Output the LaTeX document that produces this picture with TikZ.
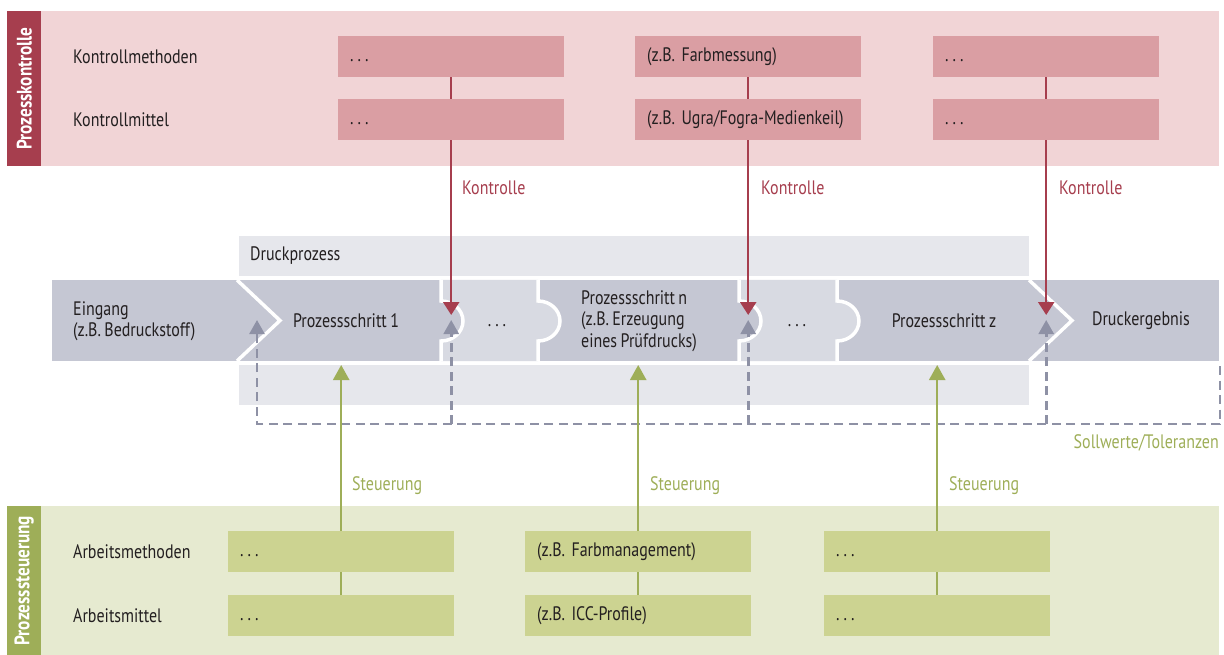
\documentclass[tikz,border=0pt]{standalone}
\usepackage{fontspec}
\setmainfont{PT Sans}[FakeStretch=0.82, WordSpace=0.8]
\usetikzlibrary{arrows.meta}
\frenchspacing
\definecolor{pinkband}{HTML}{F1D4D6}
\definecolor{pinkbox}{HTML}{DA9EA3}
\definecolor{redd}{HTML}{A63E4E}
\definecolor{grnband}{HTML}{E6EAD0}
\definecolor{grnbox}{HTML}{CCD391}
\definecolor{olive}{HTML}{9EAE58}
\definecolor{grayband}{HTML}{E6E7EC}
\definecolor{procd}{HTML}{C5C7D3}
\definecolor{procl}{HTML}{D8DAE2}
\definecolor{dashc}{HTML}{8E91A5}
\definecolor{txt}{HTML}{231F20}
\newcommand\mydots{.\kern4pt.\kern4pt.}
\tikzset{
  band/.style={inner sep=0pt, anchor=north west, draw=none},
  sidetxt/.style={rotate=90, text=white, font=\fontsize{21}{24}\selectfont\bfseries, inner sep=0pt},
  lbl/.style={anchor=west, text=txt, inner sep=0pt, align=left},
  txtc/.style={anchor=center, text=txt, inner sep=0pt, align=center},
  boxbase/.style={minimum width=226pt, minimum height=41pt, inner ysep=0pt, inner xsep=12pt,
    text width=202pt, align=left, anchor=north west, text=txt, text height=14pt, text depth=4pt},
  pbox/.style={boxbase, fill=pinkbox},
  gbox/.style={boxbase, fill=grnbox},
  sepline/.style={draw=white, line width=3.5pt},
  redln/.style={draw=redd, line width=2.4pt},
  redarr/.style={redln, -{Triangle[width=16pt,length=13pt]}},
  grnln/.style={draw=olive, line width=2.4pt},
  grnarr/.style={grnln, -{Triangle[width=16pt,length=15pt]}},
  dashln/.style={draw=dashc, line width=2.6pt, dash pattern=on 9pt off 5.5pt},
  dasharr/.style={dashln, -{Triangle[width=15pt,length=14pt]}},
}
\begin{document}
\begin{tikzpicture}[x=1pt, y=-1pt, font=\fontsize{19.5}{21.5}\selectfont]
\useasboundingbox (0,0) rectangle (1224,655);

% ---------- top band: Prozesskontrolle ----------
\node[band, fill=pinkband, minimum width=1212pt, minimum height=155pt] (topband) at (7,11) {};
\node[band, fill=redd, minimum width=34pt, minimum height=155pt] (topside) at (7,11) {};
\node[sidetxt] (topsidelbl) at (topside.center) {Prozesskontrolle};
\node[lbl] (km) at (73,56.5) {Kontrollmethoden};
\node[lbl] (kmi) at (73,120) {Kontrollmittel};

\node[pbox] (pa1) at (338,36) {\mydots};
\node[pbox] (pb1) at (635,36) {(z.B. Farbmessung)};
\node[pbox] (pc1) at (933,36) {\mydots};
\node[pbox] (pa2) at (338,99) {\mydots};
\node[pbox] (pb2) at (635,99) {(z.B. Ugra/Fogra-Medienkeil)};
\node[pbox] (pc2) at (933,99) {\mydots};

% ---------- bottom band: Prozesssteuerung ----------
\node[band, fill=grnband, minimum width=1212pt, minimum height=149pt] (botband) at (7,506) {};
\node[band, fill=olive, minimum width=34pt, minimum height=149pt] (botside) at (7,506) {};
\node[sidetxt] (botsidelbl) at (botside.center) {Prozesssteuerung};
\node[lbl] (am) at (73,551.5) {Arbeitsmethoden};
\node[lbl] (ami) at (73,615.5) {Arbeitsmittel};

\node[gbox] (ga1) at (228,531) {\mydots};
\node[gbox] (gb1) at (525,531) {(z.B. Farbmanagement)};
\node[gbox] (gc1) at (824,531) {\mydots};
\node[gbox] (ga2) at (228,595) {\mydots};
\node[gbox] (gb2) at (525,595) {(z.B. ICC-Profile)};
\node[gbox] (gc2) at (824,595) {\mydots};

% ---------- Druckprozess band ----------
\node[band, fill=grayband, minimum width=790pt, minimum height=40pt] (dtop) at (239,236) {};
\node[band, fill=grayband, minimum width=790pt, minimum height=40pt] (dbot) at (239,365) {};
\node[lbl] (dlbl) at (250,256) {Druckprozess};

% ---------- process row ----------
\fill[procd] (52,280) rectangle (1219,361);
\fill[procl] (441,280) -- (538,280) -- (538,301)
   arc[start angle=90, end angle=-90, x radius=22pt, y radius=20pt] -- (538,361) -- (441,361) -- (441,341)
   arc[start angle=-90, end angle=90, x radius=22pt, y radius=20pt] -- cycle;
\fill[procl] (739,280) -- (837,280) -- (837,301)
   arc[start angle=90, end angle=-90, x radius=22pt, y radius=20pt] -- (837,361) -- (739,361) -- (739,341)
   arc[start angle=-90, end angle=90, x radius=22pt, y radius=20pt] -- cycle;
\foreach \sx in {441,538,739,837}{
  \draw[sepline] (\sx,280) -- (\sx,301)
     arc[start angle=90, end angle=-90, x radius=22pt, y radius=20pt] -- (\sx,361);
}
\draw[sepline] (237,280) -- (280,320.5) -- (237,361);
\draw[sepline] (1029,280) -- (1072,320.5) -- (1029,361);

\node[lbl] (eing) at (73,321) {Eingang\\(z.B. Bedruckstoff)};
\node[txtc] (p1) at (346,321) {Prozessschritt 1};
\node[txtc] (dd1) at (497,326) {\mydots};
\node[lbl] (pn) at (581,321) {Prozessschritt n\\(z.B. Erzeugung\\eines Prüfdrucks)};
\node[txtc] (dd2) at (797,326) {\mydots};
\node[txtc] (pz) at (944,321) {Prozessschritt z};
\node[txtc] (erg) at (1141,321) {Druckergebnis};

% ---------- Kontrolle arrows ----------
\coordinate (k1) at (pa2.south |- 0,315);
\coordinate (k2) at (pb2.south |- 0,315);
\coordinate (k3) at (pc2.south |- 0,315);
\draw[redln] (pa1) -- (pa2);
\draw[redln] (pb1) -- (pb2);
\draw[redln] (pc1) -- (pc2);
\draw[redarr] (pa2) -- (k1);
\draw[redarr] (pb2) -- (k2);
\draw[redarr] (pc2) -- (k3);
\node[lbl, text=redd] (kl1) at (462,188) {Kontrolle};
\node[lbl, text=redd] (kl2) at (761,188) {Kontrolle};
\node[lbl, text=redd] (kl3) at (1059,188) {Kontrolle};

% ---------- Sollwerte dashed ----------
\coordinate (g0) at (257,320);
\coordinate (g1) at (k1 |- 0,320);
\coordinate (g2) at (k2 |- 0,320);
\coordinate (g3) at (k3 |- 0,320);
\coordinate (b0) at (257,424);
\coordinate (b1) at (k1 |- 0,424);
\coordinate (b2) at (k2 |- 0,424);
\coordinate (b3) at (k3 |- 0,424);
\coordinate (br) at (1220,424);
\coordinate (bt) at (1220,366);
\draw[dasharr] (bt) -- (br) -- (b0) -- (g0);
\draw[dasharr] (b1) -- (g1);
\draw[dasharr] (b2) -- (g2);
\draw[dasharr] (b3) -- (g3);
\node[anchor=east, text=olive, inner sep=0pt] (soll) at (1219,443) {Sollwerte/Toleranzen};

% ---------- Steuerung arrows ----------
\coordinate (s1) at (ga1.north |- 0,365);
\coordinate (s2) at (gb1.north |- 0,365);
\coordinate (s3) at (gc1.north |- 0,365);
\draw[grnln] (ga2) -- (ga1);
\draw[grnln] (gb2) -- (gb1);
\draw[grnln] (gc2) -- (gc1);
\draw[grnarr] (ga1) -- (s1);
\draw[grnarr] (gb1) -- (s2);
\draw[grnarr] (gc1) -- (s3);
\node[lbl, text=olive] (st1) at (352,486) {Steuerung};
\node[lbl, text=olive] (st2) at (650,486) {Steuerung};
\node[lbl, text=olive] (st3) at (949,486) {Steuerung};
\end{tikzpicture}
\end{document}
